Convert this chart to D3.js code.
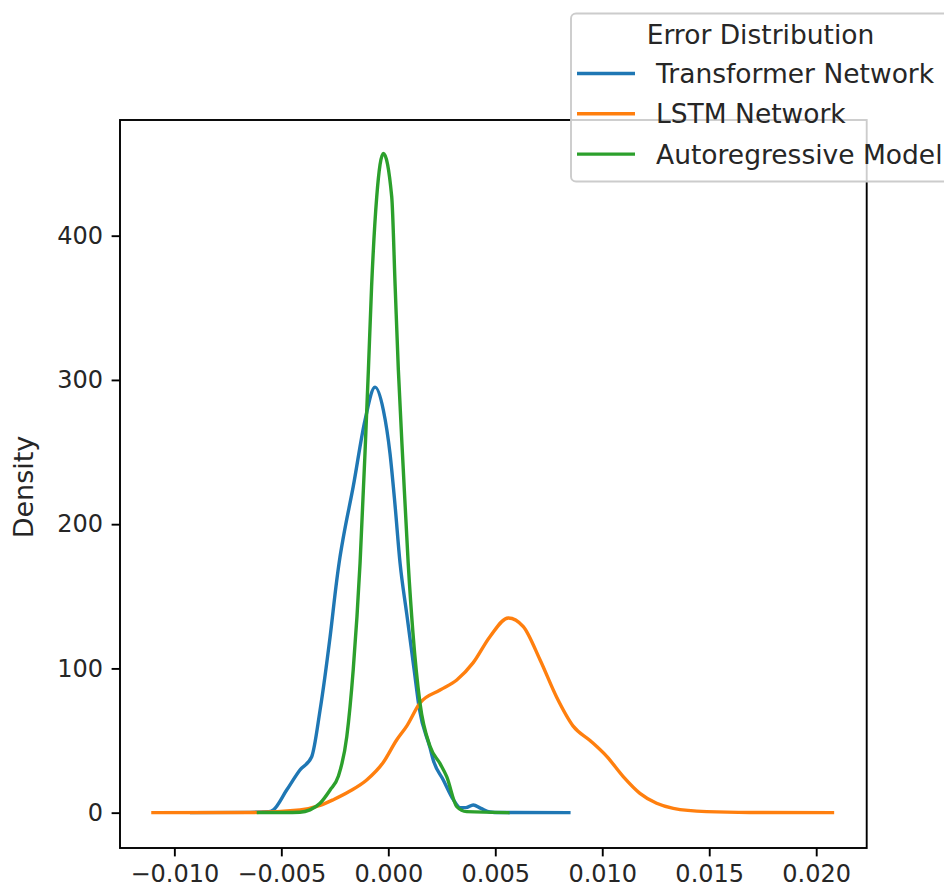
<!DOCTYPE html>
<html>
<head>
<meta charset="utf-8">
<script src="https://cdn.jsdelivr.net/npm/d3@7"></script>
<style>
  html, body { margin: 0; padding: 0; background: #fff; }
  svg { display: block; }
  text { font-family: "DejaVu Sans", sans-serif; fill: #262626; }
</style>
</head>
<body>
<div id="chart"></div>
<script>
// Kernel density estimates of forecast errors for each model
const seriesNames = ["Transformer Network", "LSTM Network", "Autoregressive Model"];
const seriesColors = ["#1f77b4", "#ff7f0e", "#2ca02c"];

const transformerX = [-0.00919, -0.00646, -0.00560, -0.00537, -0.00475, -0.00413, -0.00358, -0.00319, -0.00272, -0.00241, -0.00226, -0.00210, -0.00164, -0.00109, -0.00062, -0.00023, 0.00008, 0.00031, 0.00055, 0.00086, 0.00120, 0.00145, 0.00195, 0.00210, 0.00257, 0.00304, 0.00335, 0.00363, 0.00397, 0.00433, 0.00475, 0.00522, 0.00844];
const transformerY = [0, 0.2, 0.6, 2, 15.7, 29.6, 38.8, 71, 122, 161, 177, 191, 226, 272, 295, 279, 249, 214, 173, 138, 100, 72, 45, 36.5, 22.7, 9, 3.5, 3.5, 5.3, 3, 0.5, 0.1, 0];

const lstmX = [-0.01100, -0.00647, -0.00413, -0.00319, -0.00257, -0.00179, -0.00101, -0.00023, 0.00039, 0.00086, 0.00148, 0.00242, 0.00320, 0.00397, 0.00475, 0.00561, 0.00631, 0.00709, 0.00787, 0.00864, 0.00943, 0.01021, 0.01098, 0.01176, 0.01254, 0.01332, 0.01488, 0.01690, 0.02076];
const lstmY = [0, 0.1, 1.9, 5, 9, 15, 22.7, 35, 50.4, 60, 76, 85, 92, 104, 122, 135, 129, 106, 80, 60, 50, 39, 25, 13.4, 6.5, 3, 0.7, 0.1, 0];

const autoregX = [-0.00607, -0.00413, -0.00366, -0.00319, -0.00272, -0.00234, -0.00194, -0.00164, -0.00132, -0.00109, -0.00093, -0.00078, -0.00054, -0.00023, 0.00016, 0.00032, 0.00047, 0.00070, 0.00093, 0.00115, 0.00148, 0.00195, 0.00242, 0.00273, 0.00320, 0.00366, 0.00559];
const autoregY = [0, 0.3, 1.9, 6.5, 15.7, 25, 52.7, 99, 173, 249, 307, 365, 427, 457, 427, 365, 307, 238, 173, 125, 76, 46, 34, 25, 4.2, 0.7, 0];

const xTicks = [-0.010, -0.005, 0.000, 0.005, 0.010, 0.015, 0.020];
const yTicks = [0, 100, 200, 300, 400];
const legendTitle = "Error Distribution";
const yLabel = "Density";

const W = 944, H = 889;
const plot = { left: 120, top: 120, right: 866.7, bottom: 848 };

const x = d3.scaleLinear().domain([-0.01254, 0.02236]).range([plot.left, plot.right]);
const y = d3.scaleLinear().domain([-24.5, 480.2]).range([plot.bottom, plot.top]);

const svg = d3.select("#chart").append("svg").attr("width", W).attr("height", H);

const series = [
  { name: seriesNames[0], color: seriesColors[0], xs: transformerX, ys: transformerY },
  { name: seriesNames[1], color: seriesColors[1], xs: lstmX, ys: lstmY },
  { name: seriesNames[2], color: seriesColors[2], xs: autoregX, ys: autoregY }
];

const line = d3.line().x(d => x(d[0])).y(d => y(d[1])).curve(d3.curveMonotoneX);

svg.append("defs").append("clipPath").attr("id", "plotclip")
  .append("rect").attr("x", plot.left).attr("y", plot.top)
  .attr("width", plot.right - plot.left).attr("height", plot.bottom - plot.top);

const lines = svg.append("g").attr("clip-path", "url(#plotclip)");
series.forEach(s => {
  lines.append("path")
    .datum(s.xs.map((v, i) => [v, s.ys[i]]))
    .attr("d", line)
    .attr("fill", "none")
    .attr("stroke", s.color)
    .attr("stroke-width", 3.4)
    .attr("stroke-linejoin", "round")
    .attr("stroke-linecap", "square");
});

// Axes
const fmtX = d => d3.format(".3f")(d).replace("-", "\u2212");
const xAxis = d3.axisBottom(x).tickValues(xTicks).tickFormat(fmtX).tickSizeOuter(0).tickSize(8.4).tickPadding(8.5);
const yAxis = d3.axisLeft(y).tickValues(yTicks).tickFormat(d3.format("d")).tickSizeOuter(0).tickSize(8.4).tickPadding(8.5);

const gx = svg.append("g").attr("transform", `translate(0,${plot.bottom})`).call(xAxis);
const gy = svg.append("g").attr("transform", `translate(${plot.left},0)`).call(yAxis);
[gx, gy].forEach(g => {
  g.select(".domain").remove();
  g.selectAll(".tick line").attr("stroke", "#000").attr("stroke-width", 1.9);
  g.selectAll(".tick text").attr("font-size", 24).style("fill", "#262626")
    .attr("font-family", "DejaVu Sans, sans-serif");
});

// Frame
svg.append("rect")
  .attr("x", plot.left).attr("y", plot.top)
  .attr("width", plot.right - plot.left).attr("height", plot.bottom - plot.top)
  .attr("fill", "none").attr("stroke", "#000").attr("stroke-width", 1.9);

// Y label
svg.append("text")
  .attr("transform", `translate(33,${(plot.top + plot.bottom) / 2 + 3}) rotate(-90)`)
  .attr("text-anchor", "middle")
  .attr("font-size", 27)
  .text(yLabel);

// Legend
const lg = svg.append("g");
lg.append("rect")
  .attr("x", 571).attr("y", 13.5).attr("width", 400).attr("height", 168)
  .attr("rx", 5)
  .attr("fill", "rgba(255,255,255,0.8)")
  .attr("stroke", "#cccccc").attr("stroke-width", 1.9);
lg.append("text")
  .attr("x", 760.5).attr("y", 44).attr("text-anchor", "middle")
  .attr("font-size", 26.5).text(legendTitle);
series.forEach((s, i) => {
  const cy = 73.5 + i * 40.3;
  lg.append("line")
    .attr("x1", 577).attr("x2", 635).attr("y1", cy).attr("y2", cy)
    .attr("stroke", s.color).attr("stroke-width", 3.4);
  lg.append("text")
    .attr("x", 656).attr("y", cy + 9.5).attr("font-size", 26.5).text(s.name);
});
</script>
</body>
</html>
